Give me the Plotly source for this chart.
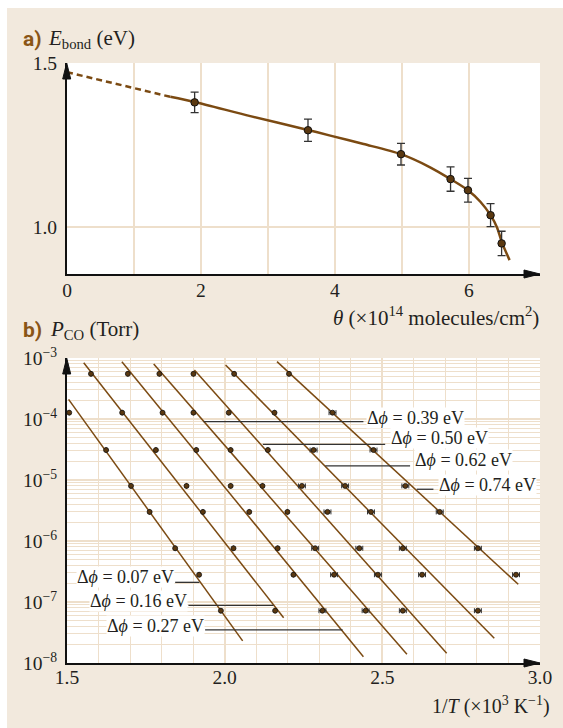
import plotly.graph_objects as go

# ---------------- Panel a data ----------------
theta = [1.905, 3.597, 4.985, 5.725, 5.985, 6.322, 6.487]
e_bond = [1.380, 1.295, 1.222, 1.146, 1.112, 1.036, 0.950]
e_err = [0.031, 0.034, 0.033, 0.037, 0.036, 0.035, 0.037]
dash_theta = [0.0, 1.542]
dash_e = [1.472, 1.397]
curve_theta = [1.542, 1.905, 2.736, 3.597, 3.93, 4.427, 4.985, 5.42, 5.725, 5.985, 6.17, 6.322, 6.42, 6.49, 6.606]
curve_e = [1.397, 1.381, 1.338, 1.296, 1.2785, 1.253, 1.222, 1.182, 1.146, 1.112, 1.077, 1.036, 0.998, 0.954, 0.899]
a_xticks = [0, 2, 4, 6]
a_xminor = [1, 3, 5]
a_yticks = [1.0, 1.5]
a_ylabels = ["1.0", "1.5"]

# ---------------- Panel b data ----------------
dphi_labels = ["0.07", "0.16", "0.27", "0.39", "0.50", "0.62", "0.74"]

s007_x = [1.507, 1.624, 1.703, 1.762, 1.843, 1.919, 1.988]
s007_p = [1.27e-4, 3.1e-5, 8.0e-6, 3.0e-6, 7.6e-7, 2.8e-7, 7.2e-8]
s007_xerr = [None, None, None, None, None, None, None]

s016_x = [1.576, 1.675, 1.782, 1.879, 1.931, 2.028, 2.160]
s016_p = [5.5e-4, 1.27e-4, 3.1e-5, 8.0e-6, 3.0e-6, 7.6e-7, 7.2e-8]
s016_xerr = [None, None, None, None, None, None, None]

s027_x = [1.693, 1.803, 1.910, 2.019, 2.078, 2.168, 2.218, 2.310]
s027_p = [5.5e-4, 1.27e-4, 3.1e-5, 8.0e-6, 3.0e-6, 7.6e-7, 2.8e-7, 7.2e-8]
s027_xerr = [None, None, None, None, None, None, None, 0.011]

s039_x = [1.793, 1.901, 2.019, 2.120, 2.199, 2.287, 2.347, 2.447]
s039_p = [5.5e-4, 1.27e-4, 3.1e-5, 8.0e-6, 3.0e-6, 7.6e-7, 2.8e-7, 7.2e-8]
s039_xerr = [None, None, None, None, None, 0.011, 0.011, 0.011]

s050_x = [1.901, 2.013, 2.137, 2.245, 2.326, 2.427, 2.486, 2.565]
s050_p = [5.5e-4, 1.27e-4, 3.1e-5, 8.0e-6, 3.0e-6, 7.6e-7, 2.8e-7, 7.2e-8]
s050_xerr = [None, None, None, 0.011, 0.011, 0.011, 0.011, 0.011]

s062_x = [2.030, 2.158, 2.282, 2.382, 2.464, 2.565, 2.626, 2.803]
s062_p = [5.5e-4, 1.27e-4, 3.1e-5, 8.0e-6, 3.0e-6, 7.6e-7, 2.8e-7, 7.2e-8]
s062_xerr = [None, None, 0.011, 0.011, 0.011, 0.011, 0.011, 0.011]

s074_x = [2.204, 2.342, 2.472, 2.573, 2.682, 2.803, 2.924]
s074_p = [5.5e-4, 1.27e-4, 3.1e-5, 8.0e-6, 3.0e-6, 7.6e-7, 2.8e-7]
s074_xerr = [None, 0.011, 0.011, 0.011, 0.011, 0.011, 0.011]

# fitted straight lines: [start, end]
fit007_x, fit007_p = [1.505, 2.057], [2.10e-4, 2.30e-8]
fit016_x, fit016_p = [1.553, 2.187], [8.37e-4, 5.53e-8]
fit027_x, fit027_p = [1.674, 2.440], [8.71e-4, 1.27e-8]
fit039_x, fit039_p = [1.775, 2.578], [7.98e-4, 1.39e-8]
fit050_x, fit050_p = [1.904, 2.704], [6.35e-4, 1.44e-8]
fit062_x, fit062_p = [2.003, 2.855], [7.67e-4, 2.54e-8]
fit074_x, fit074_p = [2.166, 2.931], [8.71e-4, 1.95e-7]

# leader lines for the labels: [start, end] in x, constant pressure
lead_x = [[1.843, 1.920], [1.885, 2.155], [1.938, 2.374], [1.933, 2.440],
          [2.121, 2.509], [2.319, 2.588], [2.609, 2.662]]
lead_p = [2.1e-7, 8.8e-8, 3.5e-8, 9.03e-5, 3.85e-5, 1.70e-5, 7.05e-6]
# label anchor positions (x, log10 P)
lab_x = [1.843, 1.885, 1.938, 2.449, 2.523, 2.599, 2.675]
lab_logp = [-6.585, -6.979, -7.389, -3.989, -4.316, -4.672, -5.082]

b_xticks = [1.5, 2.0, 2.5, 3.0]
b_xlabels = ["1.5", "2.0", "2.5", "3.0"]
b_yticks = [1e-8, 1e-7, 1e-6, 1e-5, 1e-4, 1e-3]
b_ylabels = ["10<sup>−8</sup>", "10<sup>−7</sup>", "10<sup>−6</sup>",
             "10<sup>−5</sup>", "10<sup>−4</sup>", "10<sup>−3</sup>"]

# ---------------- styling ----------------
W, H = 563, 728
ML, MR, MT, MB = 67, 23, 63, 65
PW = W - ML - MR
PH = H - MT - MB

def px(x):
    return (x - ML) / PW

def py(y):
    return 1 - (y - MT) / PH

BG = "#F2E9DD"
GRID = "#EEDFCB"
BROWN = "#7B4A12"
DOT = "#5A3810"
SERIF = "Liberation Serif"
TXT = "#231F20"
FS_TICK = 19.5
FS_LAB = 18

fig = go.Figure()

# panel a
fig.add_trace(go.Scatter(x=dash_theta, y=dash_e, mode="lines",
                         line=dict(color=BROWN, width=2.5, dash="6px,4px"),
                         xaxis="x", yaxis="y", hoverinfo="skip"))
fig.add_trace(go.Scatter(x=curve_theta, y=curve_e, mode="lines",
                         line=dict(color=BROWN, width=2.5, shape="spline", smoothing=0.8),
                         xaxis="x", yaxis="y", hoverinfo="skip"))
fig.add_trace(go.Scatter(x=theta, y=e_bond, mode="markers",
                         marker=dict(size=7.5, color=DOT, line=dict(color="#111", width=1)),
                         error_y=dict(type="data", array=e_err, color="#333", thickness=1.3, width=4),
                         xaxis="x", yaxis="y"))

# panel b
series = [
    (s007_x, s007_p, s007_xerr, fit007_x, fit007_p),
    (s016_x, s016_p, s016_xerr, fit016_x, fit016_p),
    (s027_x, s027_p, s027_xerr, fit027_x, fit027_p),
    (s039_x, s039_p, s039_xerr, fit039_x, fit039_p),
    (s050_x, s050_p, s050_xerr, fit050_x, fit050_p),
    (s062_x, s062_p, s062_xerr, fit062_x, fit062_p),
    (s074_x, s074_p, s074_xerr, fit074_x, fit074_p),
]
for sx, sp, se, fx, fp in series:
    fig.add_trace(go.Scatter(x=fx, y=fp, mode="lines",
                             line=dict(color=BROWN, width=1.5),
                             xaxis="x2", yaxis="y2", hoverinfo="skip"))
for lx, lp in zip(lead_x, lead_p):
    fig.add_trace(go.Scatter(x=lx, y=[lp, lp], mode="lines",
                             line=dict(color="#333", width=1.3),
                             xaxis="x2", yaxis="y2", hoverinfo="skip"))
for sx, sp, se, fx, fp in series:
    fig.add_trace(go.Scatter(x=sx, y=sp, mode="markers",
                             marker=dict(size=5, color=DOT, line=dict(color="#111", width=0.8)),
                             error_x=dict(type="data", array=se, color="#333", thickness=1, width=2.5),
                             xaxis="x2", yaxis="y2"))

tickfont = dict(family=SERIF, size=FS_TICK, color=TXT)

minor_log = [k * 10.0 ** e for e in range(-8, -3) for k in range(2, 10)]

fig.update_layout(
    width=W, height=H,
    margin=dict(l=ML, r=MR, t=MT, b=MB, pad=0),
    paper_bgcolor=BG, plot_bgcolor="white",
    showlegend=False,
    xaxis=dict(domain=[0, 1], range=[0, 7.06], anchor="y",
               tickvals=a_xticks, ticktext=[str(v) for v in a_xticks],
               showgrid=True, gridcolor=GRID, gridwidth=2,
               minor=dict(tickvals=a_xminor, showgrid=True, gridcolor=GRID, gridwidth=2),
               showline=True, linecolor="#111", linewidth=2, zeroline=False,
               ticks="", tickfont=tickfont, ticklabelstandoff=-2),
    yaxis=dict(domain=[py(274), 1], range=[0.8567, 1.5], anchor="x",
               tickvals=a_yticks, ticktext=a_ylabels,
               showgrid=True, gridcolor=GRID, gridwidth=2,
               showline=True, linecolor="#111", linewidth=2, zeroline=False,
               ticks="", tickfont=tickfont, ticklabelstandoff=4),
    xaxis2=dict(domain=[0, 1], range=[1.5, 3.0], anchor="y2",
                tickvals=b_xticks, ticktext=b_xlabels,
                showgrid=True, gridcolor=GRID, gridwidth=2,
                minor=dict(dtick=0.1, showgrid=True, gridcolor=GRID, gridwidth=1),
                showline=True, linecolor="#111", linewidth=2, zeroline=False,
                ticks="", tickfont=tickfont, ticklabelstandoff=-4),
    yaxis2=dict(domain=[0, py(358)], type="log", range=[-8, -3], anchor="x2",
                tickvals=b_yticks, ticktext=b_ylabels,
                showgrid=True, gridcolor=GRID, gridwidth=2,
                minor=dict(tickvals=minor_log, showgrid=True, gridcolor=GRID, gridwidth=1),
                showline=True, linecolor="#111", linewidth=2, zeroline=False,
                ticks="", tickfont=tickfont, ticklabelstandoff=4),
)

shapes = []
# white strips around the beige panel
shapes.append(dict(type="rect", xref="paper", yref="paper", layer="below",
                   x0=px(0), x1=px(7), y0=py(0), y1=py(H), fillcolor="white", line=dict(width=0)))
shapes.append(dict(type="rect", xref="paper", yref="paper", layer="below",
                   x0=px(0), x1=px(W), y0=py(0), y1=py(8), fillcolor="white", line=dict(width=0)))

def tri(points):
    path = "M " + " L ".join(f"{px(a)},{py(b)}" for a, b in points) + " Z"
    return dict(type="path", xref="paper", yref="paper", path=path,
                fillcolor="#111", line=dict(color="#111", width=1))

for (yx, ytop) in [(66.7, 63), (66.7, 358)]:
    shapes.append(tri([(yx, ytop), (yx - 4, ytop + 16), (yx + 4, ytop + 16)]))
for (xtip, yax) in [(540, 274), (540, 663)]:
    shapes.append(tri([(xtip, yax), (xtip - 16, yax - 4), (xtip - 16, yax + 4)]))
fig.update_layout(shapes=shapes)

ann = []
def add_text(text, x, y, xanchor="left", size=21, family=SERIF, color=TXT):
    ann.append(dict(text=text, x=px(x), y=py(y), xref="paper", yref="paper",
                    xanchor=xanchor, yanchor="middle", showarrow=False,
                    font=dict(family=family, size=size, color=color)))

add_text("<b>a)</b>", 21, 39, family="Roboto", size=21, color="#8A5516")
add_text("<i>E</i><sub>bond</sub> (eV)", 46, 39, size=21)
add_text("<b>b)</b>", 21, 330, family="Roboto", size=21, color="#8A5516")
add_text("<i>P</i><sub>CO</sub> (Torr)", 48, 330, size=21)
add_text("<i>θ</i> (×10<sup>14</sup> molecules/cm<sup>2</sup>)", 541, 316, xanchor="right", size=21)
add_text("1/<i>T</i> (×10<sup>3</sup> K<sup>−1</sup>)", 552, 705, xanchor="right", size=20)

for i, lab in enumerate(dphi_labels):
    xa = "right" if i < 3 else "left"
    ann.append(dict(text=f"Δ<i>ϕ</i> = {lab} eV", x=lab_x[i], y=lab_logp[i],
                    xref="x2", yref="y2", xanchor=xa, yanchor="middle", showarrow=False,
                    bgcolor="white", borderpad=0,
                    font=dict(family=SERIF, size=FS_LAB, color=TXT)))
fig.update_layout(annotations=ann)

fig.write_html("out.html")
